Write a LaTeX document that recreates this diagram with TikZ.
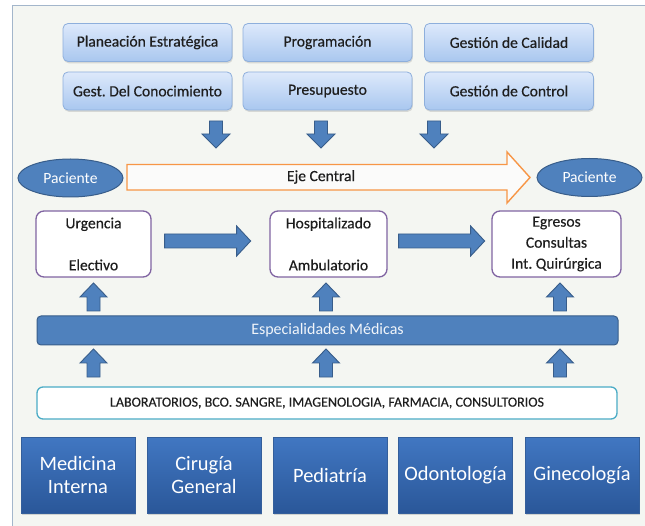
\documentclass[tikz,border=0pt]{standalone}
\usepackage{fontspec}
\setmainfont{Carlito}
\newfontfamily\heavyfont[FakeBold=0.35]{Carlito}
\usetikzlibrary{shadows,calc,shapes.geometric}
\frenchspacing
\definecolor{framec}{HTML}{A3B6CB}
\definecolor{bgc}{HTML}{F4F6F2}
\definecolor{toptop}{HTML}{DDE9FB}
\definecolor{topbot}{HTML}{A9C7EF}
\definecolor{topedge}{HTML}{8EAFDC}
\definecolor{obl}{HTML}{4F81BD}
\definecolor{obledge}{HTML}{385D8A}
\definecolor{oorange}{HTML}{F79646}
\definecolor{opurple}{HTML}{8064A2}
\definecolor{oteal}{HTML}{4BACC6}
\definecolor{btop}{HTML}{4177C2}
\definecolor{bbot}{HTML}{2A5799}
\definecolor{txt}{HTML}{1E1E1E}
\tikzset{
  topbox/.style={rounded corners=5pt, top color=toptop, bottom color=topbot, draw=topedge,
    line width=0.8pt, minimum width=169pt, minimum height=38pt, inner sep=0pt, text=txt,
    font=\heavyfont\fontsize{15.6}{18}\selectfont,
    drop shadow={opacity=0.25, shadow xshift=0.8pt, shadow yshift=-1.8pt}},
  pac/.style={ellipse, fill=obl, draw=obledge, line width=1pt, minimum width=105pt,
    minimum height=38pt, inner sep=0pt, text=white, font=\fontsize{15.6}{18}\selectfont},
  procbox/.style={rounded corners=8pt, fill=white, draw=opurple, line width=1.3pt,
    minimum height=66pt, inner sep=0pt, text=txt, align=center,
    font=\heavyfont\fontsize{15.6}{21}\selectfont},
  especbox/.style={rounded corners=4pt, fill=obl, draw=obledge, line width=1pt,
    minimum width=581pt, minimum height=29pt, inner sep=0pt, text=white!92!obl,
    font=\fontsize{16}{19}\selectfont},
  labbox/.style={rounded corners=6pt, fill=white, draw=oteal, line width=1.3pt,
    minimum width=580pt, minimum height=32pt, inner sep=0pt, text=txt,
    font=\heavyfont\fontsize{14}{17}\selectfont},
  specbox/.style={top color=btop, bottom color=bbot, draw=btop!80!black, line width=0.4pt,
    minimum width=114pt, minimum height=76pt, inner sep=0pt, text=white, align=center,
    font=\fontsize{20.4}{23.5}\selectfont,
    drop shadow={opacity=0.3, shadow xshift=0.8pt, shadow yshift=-1.8pt}},
  blockarr/.style={fill=obl, draw=obledge, line width=0.9pt, line join=miter},
  pics/downarr/.style={code={\draw[blockarr] (-6.5,0) -- (6.5,0) -- (6.5,13) -- (14,13) -- (0,27) -- (-14,13) -- (-6.5,13) -- cycle;}},
  pics/uparr/.style={code={\draw[blockarr] (-6.5,0) -- (6.5,0) -- (6.5,-14) -- (13.5,-14) -- (0,-28) -- (-13.5,-14) -- (-6.5,-14) -- cycle;}},
  pics/rightarr/.style={code={\draw[blockarr] (0,-7) -- (72,-7) -- (72,-15) -- (86,0) -- (72,15) -- (72,7) -- (0,7) -- cycle;}},
}
\begin{document}
\begin{tikzpicture}[x=1pt,y=-1pt]
\useasboundingbox (0,0) rectangle (645,526);
% frame
\fill[white] (0,0) rectangle (645,526);
\draw[framec, line width=1.5pt, fill=bgc] (12.5,5.5) rectangle (670,550);
% top boxes
\node[topbox] (plan) at (147.5,42.5) {Planeación Estratégica};
\node[topbox] (prog) at (327.5,42.5) {Programación};
\node[topbox] (cal)  at (509,42.5) {Gestión de Calidad};
\node[topbox] (conoc) at (147.5,91) {Gest. Del Conocimiento};
\node[topbox] (pres) at (327.5,91) {Presupuesto};
\node[topbox] (ctrl) at (509,91) {Gestión de Control};
% down arrows
\pic at (216,121) {downarr};
\pic at (321,121) {downarr};
\pic at (434,121) {downarr};
% pacientes
\node[pac] (pac1) at (70.5,178) {Paciente};
\node[pac] (pac2) at (589.5,177.5) {Paciente};
% eje central arrow
\draw[oorange, line width=1.4pt, fill=white!60!bgc, line join=miter]
  (127,164.5) -- (507,164.5) -- (507,152) -- (530,177.5) -- (507,203) -- (507,190) -- (127,190) -- cycle;
\node[text=txt, font=\heavyfont\fontsize{15.6}{18}\selectfont] (eje) at (321,177) {Eje Central};
% process boxes
\node[procbox, minimum width=115pt] (urg) at (93.5,244) {Urgencia\\[21pt]Electivo};
\node[procbox, minimum width=117pt] (hosp) at (328.5,244) {Hospitalizado\\[21pt]Ambulatorio};
\node[procbox, minimum width=129pt] (egr) at (556.5,244) {Egresos\\Consultas\\Int. Quirúrgica};
% right arrows
\pic at ($(urg.east)+(13,-3)$) {rightarr};
\pic at ($(hosp.east)+(11,-3)$) {rightarr};
% especialidades
\node[especbox] (esp) at (327.5,330.5) {Especialidades Médicas};
\node[labbox] (lab) at (327,403) {LABORATORIOS, BCO. SANGRE, IMAGENOLOGIA, FARMACIA, CONSULTORIOS};
% up arrows
\foreach \xx in {93.5,326,560}{
  \pic at (\xx,311) {uparr};
  \pic at (\xx,377) {uparr};
}
% bottom specialties
\node[specbox] (mi) at (78,475) {Medicina\\Interna};
\node[specbox] (cg) at (204,475) {Cirugía\\General};
\node[specbox] (ped) at (330,475) {Pediatría};
\node[specbox] (odo) at (455.5,475) {Odontología};
\node[specbox] (gin) at (582,475) {Ginecología};
\end{tikzpicture}
\end{document}
